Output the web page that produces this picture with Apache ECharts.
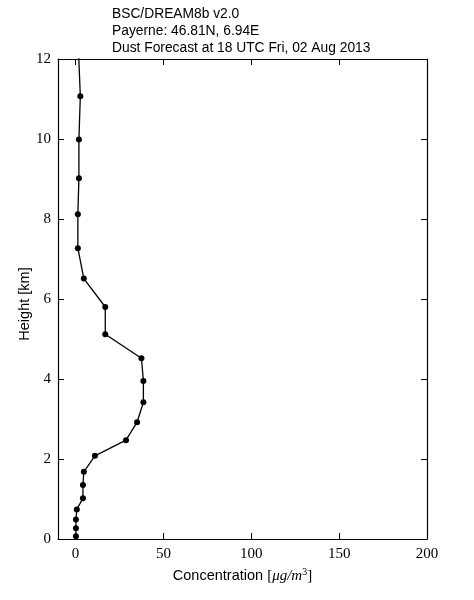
<!DOCTYPE html>
<html>
<head>
<meta charset="utf-8">
<script src="https://cdn.jsdelivr.net/npm/echarts@6/dist/echarts.min.js"></script>
<style>
html, body { margin: 0; padding: 0; background: #fff; }
#chart { width: 474px; height: 600px; }
</style>
</head>
<body>
<div id="chart"></div>
<script>
// model levels (km) and dust concentration (ug/m3)
const heights = [0.07, 0.27, 0.49, 0.74, 1.02, 1.35, 1.68, 2.08, 2.47, 2.92, 3.42, 3.95,
  4.52, 5.12, 5.80, 6.51, 7.27, 8.12, 9.02, 9.99, 11.07, 12.4]
const concentration = [0.2, 0.2, 0.2, 0.7, 4.2, 4.2, 4.7, 11, 28.7, 35, 38.6, 38.6,
  37.5, 16.9, 16.9, 4.7, 1.3, 1.3, 1.9, 1.9, 2.7, 1.5]
const xTicks = [0, 50, 100, 150, 200]
const titleLines = ['BSC/DREAM8b v2.0', 'Payerne: 46.81N, 6.94E', 'Dust Forecast at 18 UTC Fri, 02 Aug 2013']

const serif = '"Liberation Serif", "DejaVu Serif", serif'
const sans = '"Liberation Sans", Arial, sans-serif'

let chart = echarts.init(document.getElementById('chart'), null, { renderer: 'canvas' })

const frameLine = { show: true, onZero: false, lineStyle: { color: '#000', width: 1.2 } }
const tick = { show: true, inside: true, length: 6, lineStyle: { color: '#000', width: 1 } }

let option = {
  backgroundColor: '#fff',
  animation: false,
  title: {
    text: titleLines.join('\n'),
    left: 112,
    top: 6,
    padding: 0,
    textStyle: { fontFamily: sans, fontSize: 13.8, fontWeight: 'normal', color: '#000', lineHeight: 17 }
  },
  grid: { left: 58, right: 47, top: 59, bottom: 61, containLabel: false },
  xAxis: [
    {
      type: 'value',
      min: -10,
      max: 200,
      position: 'bottom',
      axisLine: frameLine,
      axisTick: Object.assign({}, tick, { customValues: xTicks }),
      axisLabel: {
        customValues: xTicks,
        fontFamily: serif, fontSize: 15, color: '#000', margin: 8
      },
      splitLine: { show: false },
      name: '{a|Concentration }{b|[}{c|μg/m}{d|3}{b|]}',
      nameLocation: 'middle',
      nameGap: 22,
      nameTextStyle: {
        rich: {
          a: { fontFamily: sans, fontSize: 14.5, color: '#000' },
          b: { fontFamily: serif, fontSize: 15, color: '#000' },
          c: { fontFamily: serif, fontSize: 15, fontStyle: 'italic', color: '#000' },
          d: { fontFamily: serif, fontSize: 10, color: '#000', verticalAlign: 'top', padding: [0, 0, 8, 0] }
        }
      }
    },
    {
      type: 'value',
      min: -10,
      max: 200,
      position: 'top',
      axisLine: frameLine,
      axisTick: Object.assign({}, tick, { customValues: xTicks }),
      axisLabel: { show: false },
      splitLine: { show: false }
    }
  ],
  yAxis: [
    {
      type: 'value',
      min: 0,
      max: 12,
      interval: 2,
      position: 'left',
      axisLine: frameLine,
      axisTick: tick,
      axisLabel: { fontFamily: serif, fontSize: 15, color: '#000', margin: 7 },
      splitLine: { show: false },
      name: 'Height [km]',
      nameLocation: 'middle',
      nameGap: 26,
      nameMoveOverlap: false,
      nameTextStyle: { fontFamily: sans, fontSize: 14.5, color: '#000', padding: [0, 10, 0, 0] }
    },
    {
      type: 'value',
      min: 0,
      max: 12,
      interval: 2,
      position: 'right',
      axisLine: frameLine,
      axisTick: tick,
      axisLabel: { show: false },
      splitLine: { show: false }
    }
  ],
  series: [
    {
      type: 'line',
      xAxisIndex: 0,
      yAxisIndex: 0,
      data: heights.map((h, i) => [concentration[i], h]),
      symbol: 'circle',
      symbolSize: 6,
      clip: true,
      itemStyle: { color: '#000' },
      lineStyle: { color: '#000', width: 1.3 }
    }
  ]
}
chart.setOption(option)
</script>
</body>
</html>
